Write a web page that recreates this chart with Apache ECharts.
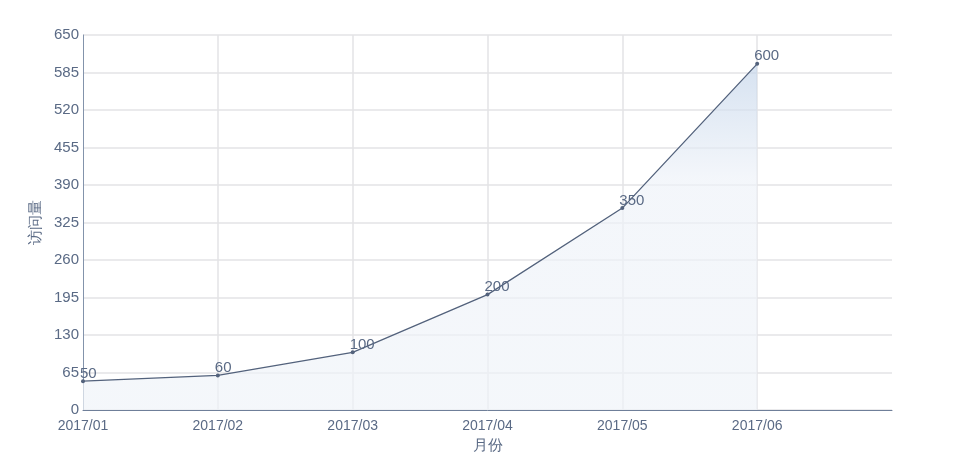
<!DOCTYPE html>
<html>
<head>
<meta charset="utf-8">
<script src="https://cdn.jsdelivr.net/npm/echarts@6/dist/echarts.min.js"></script>
<style>html,body{margin:0;padding:0;background:#fff}#c{width:957px;height:468px}</style>
</head>
<body>
<div id="c"></div>
<script>
var categories = ['2017/01', '2017/02', '2017/03', '2017/04', '2017/05', '2017/06', ''];
var visits = [50, 60, 100, 200, 350, 600];
var xName = '月份';
var yName = '访问量';
var yMin = 0, yMax = 650, yInterval = 65;

var textColor = '#5a6a85';
var chart = echarts.init(document.getElementById('c'), null, {renderer: 'canvas'});
chart.setOption({
  animation: false,
  textStyle: {fontFamily: '"Liberation Sans", Arial, sans-serif'},
  grid: {left: 83, right: 65, top: 35, bottom: 58},
  xAxis: {
    type: 'category',
    data: categories,
    boundaryGap: false,
    name: xName,
    nameLocation: 'middle',
    nameGap: 26,
    nameTextStyle: {color: textColor, fontSize: 15},
    axisLine: {lineStyle: {color: '#6f7f99', width: 1}},
    axisTick: {show: false},
    axisLabel: {color: textColor, fontSize: 14, margin: 9},
    splitLine: {
      show: true,
      interval: function (idx) { return idx > 0 && idx < categories.length - 1; },
      lineStyle: {color: '#e3e3e6', width: 1.5}
    }
  },
  yAxis: {
    type: 'value',
    min: yMin, max: yMax, interval: yInterval,
    name: yName,
    nameLocation: 'middle',
    nameGap: 40,
    nameTextStyle: {color: textColor, fontSize: 15},
    axisLine: {show: true, lineStyle: {color: '#8393ab', width: 1}},
    axisTick: {show: false},
    axisLabel: {color: textColor, fontSize: 15, margin: 4},
    splitLine: {lineStyle: {color: '#e3e3e6', width: 1.5}}
  },
  series: [{
    type: 'line',
    data: visits,
    symbol: 'circle',
    symbolSize: 4,
    itemStyle: {color: '#53627c'},
    lineStyle: {color: '#53627c', width: 1.3},
    label: {
      show: true, position: 'top', distance: 0, align: 'left', offset: [-3, 2],
      color: textColor, fontSize: 15
    },
    areaStyle: {
      color: new echarts.graphic.LinearGradient(0, 0, 0, 1, [
        {offset: 0, color: '#c4d5ea'},
        {offset: 0.33, color: '#eef2f8'},
        {offset: 1, color: '#eff3f8'}
      ])
    }
  }]
});
</script>
</body>
</html>
